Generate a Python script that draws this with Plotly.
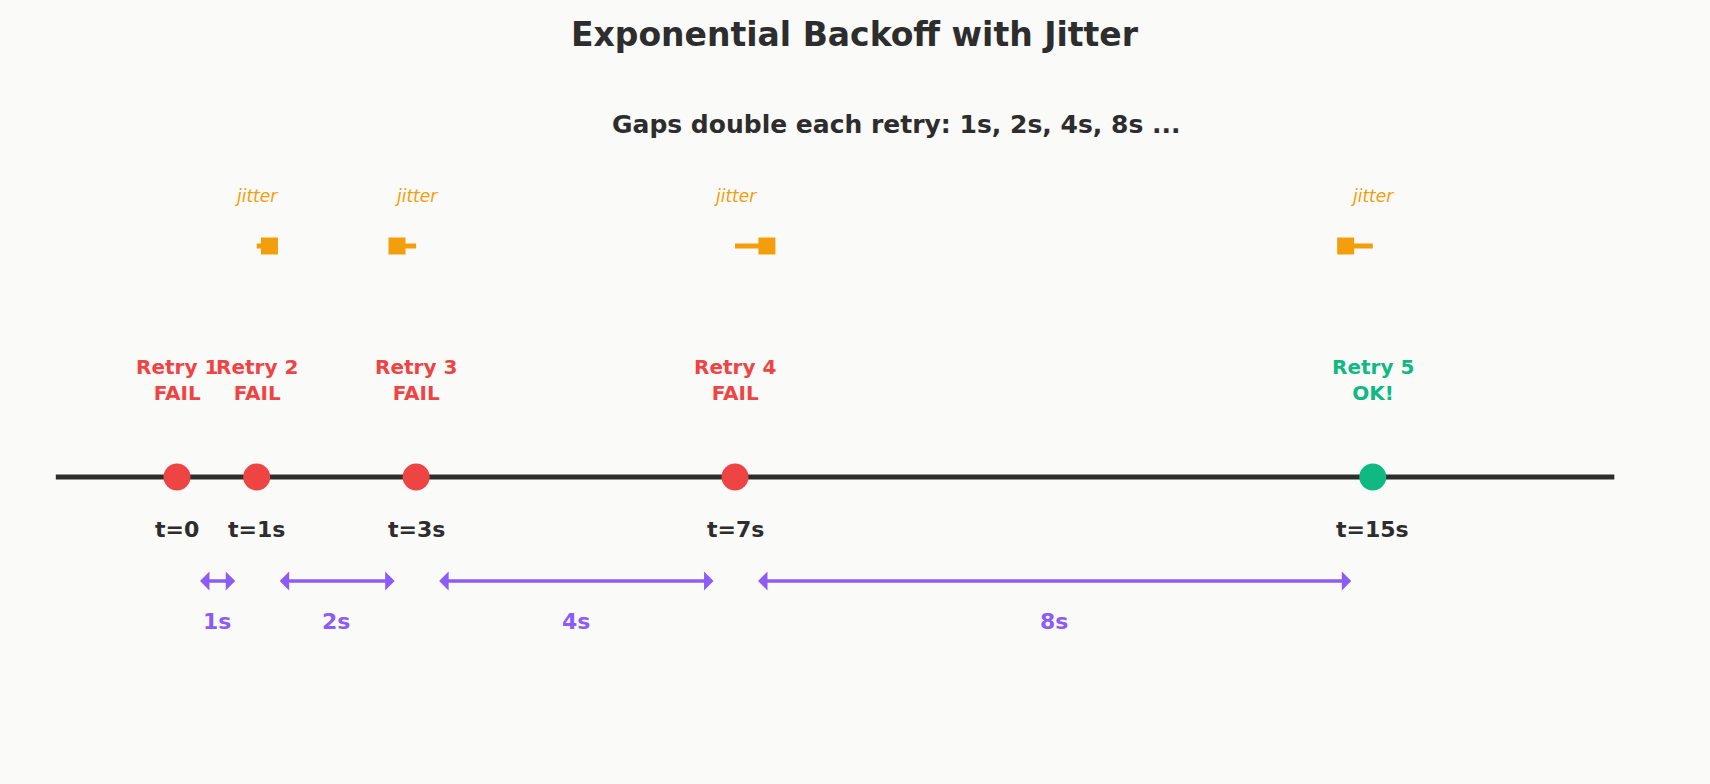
import plotly.graph_objects as go

times = [0, 1, 3, 7, 15]
retry_labels = ["Retry 1<br>FAIL", "Retry 2<br>FAIL", "Retry 3<br>FAIL", "Retry 4<br>FAIL", "Retry 5<br>OK!"]
ok = [False, False, False, False, True]
t_labels = ["t=0", "t=1s", "t=3s", "t=7s", "t=15s"]
jitter_nominal = [1, 3, 7, 15]
jitter_actual = [1.16, 2.76, 7.4, 14.66]
gap_start = [0, 1, 3, 7]
gap_end = [1, 3, 7, 15]
gap_labels = ["1s", "2s", "4s", "8s"]

RED, GREEN, DARK, ORANGE, PURPLE = "#ef4444", "#10b981", "#2d2d2d", "#f59e0b", "#8b5cf6"
Y_LINE, Y_JIT, Y_JITTXT, Y_RETRY, Y_T, Y_ARR, Y_GAP = 477, 246, 196, 380, 529, 581, 621

fig = go.Figure()
fig.add_trace(go.Scatter(x=[-1.52, 18.03], y=[Y_LINE, Y_LINE], mode="lines",
                         line=dict(color=DARK, width=5), hoverinfo="skip"))
for n, a in zip(jitter_nominal, jitter_actual):
    fig.add_trace(go.Scatter(x=[n, a], y=[Y_JIT, Y_JIT], mode="lines",
                             line=dict(color=ORANGE, width=5), hoverinfo="skip"))
    fig.add_annotation(x=n, y=Y_JITTXT, text="<i>jitter</i>", showarrow=False,
                       font=dict(size=17, color=ORANGE))
fig.add_trace(go.Scatter(x=jitter_actual, y=[Y_JIT]*4, mode="markers",
                         marker=dict(symbol="square", size=17, color=ORANGE)))
fig.add_trace(go.Scatter(x=times, y=[Y_LINE]*5, mode="markers",
                         marker=dict(size=27, color=[GREEN if o else RED for o in ok])))
for t, lab, o, tl in zip(times, retry_labels, ok, t_labels):
    fig.add_annotation(x=t, y=Y_RETRY, text=f"<b>{lab}</b>", showarrow=False,
                       font=dict(size=20, color=GREEN if o else RED))
    fig.add_annotation(x=t, y=Y_T, text=f"<b>{tl}</b>", showarrow=False,
                       font=dict(size=22, color=DARK))
for s, e, g in zip(gap_start, gap_end, gap_labels):
    fig.add_annotation(x=e - 0.27, y=Y_ARR, ax=s + 0.27, ay=Y_ARR, axref="x", ayref="y",
                       xref="x", yref="y", text="", showarrow=True, arrowhead=1,
                       arrowside="end+start", arrowwidth=3.5, arrowsize=0.9, arrowcolor=PURPLE)
    fig.add_annotation(x=(s + e) / 2, y=Y_GAP, text=f"<b>{g}</b>", showarrow=False,
                       font=dict(size=22, color=PURPLE))
fig.add_annotation(x=0.5, xref="paper", y=34, text="<b>Exponential Backoff with Jitter</b>",
                   showarrow=False, font=dict(size=33, color=DARK))
fig.add_annotation(x=0.524, xref="paper", y=124, text="<b>Gaps double each retry: 1s, 2s, 4s, 8s ...</b>",
                   showarrow=False, font=dict(size=25, color=DARK))

fig.update_layout(width=1710, height=784, margin=dict(l=0, r=0, t=0, b=0),
                  paper_bgcolor="#fafaf9", plot_bgcolor="#fafaf9", showlegend=False,
                  font=dict(family="DejaVu Sans"),
                  xaxis=dict(range=[-2.22, 19.23], visible=False),
                  yaxis=dict(range=[784, 0], visible=False))
fig.write_html("out.html", config={"displayModeBar": False},
               post_script="document.body.style.margin='0';document.body.style.background='#fafaf9';")
